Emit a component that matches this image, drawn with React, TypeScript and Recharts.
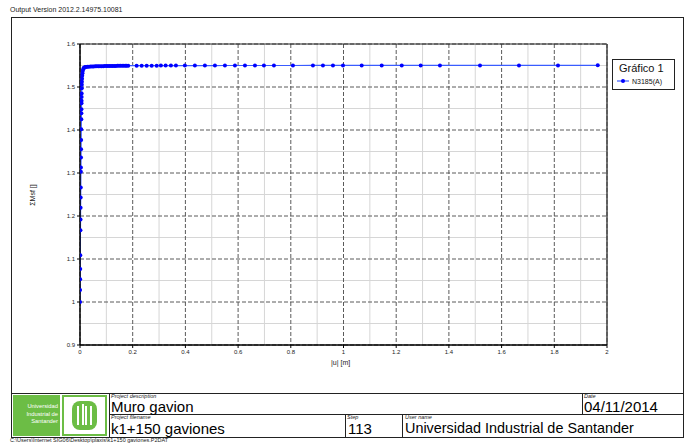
import React from 'react';
import { LineChart, Line, XAxis, YAxis, CartesianGrid, ReferenceLine } from 'recharts';

// |u| [m] of each calculation step
const uValues = [
  0, 0.0003, 0.0006, 0.0009, 0.0012, 0.0017, 0.002, 0.0023, 0.0026, 0.0029,
  0.0033, 0.0035, 0.0038, 0.0041, 0.0044, 0.0047, 0.0051, 0.0053, 0.0055, 0.0058,
  0.006, 0.0062, 0.0064, 0.0067, 0.007, 0.0073,
  0.0078, 0.0085, 0.0094, 0.0105, 0.012, 0.014, 0.0165, 0.0195, 0.023, 0.028,
  0.034, 0.04, 0.046, 0.052, 0.058, 0.064, 0.07, 0.076, 0.082, 0.088,
  0.094, 0.1, 0.106, 0.112, 0.118, 0.124, 0.13, 0.136, 0.142, 0.148,
  0.154, 0.16, 0.166, 0.172, 0.177,
  0.183, 0.215, 0.234, 0.253, 0.272, 0.291, 0.307, 0.325, 0.345, 0.364,
  0.398, 0.436, 0.474, 0.512, 0.55, 0.588, 0.626, 0.664, 0.698, 0.736,
  0.808, 0.884, 0.922, 0.96, 0.998, 1.069, 1.145, 1.221, 1.293, 1.366,
  1.518, 1.666, 1.814, 1.965,
];

// ΣMsf of each step
const msfValues = [
  1.0, 1.028, 1.053, 1.077, 1.109, 1.167, 1.192, 1.219, 1.243, 1.266,
  1.303, 1.313, 1.336, 1.355, 1.377, 1.402, 1.425, 1.439, 1.448, 1.462,
  1.468, 1.477, 1.485, 1.497, 1.505, 1.512,
  1.519, 1.526, 1.532, 1.537, 1.541, 1.544, 1.5455, 1.5463, 1.5468, 1.547,
  1.5472, 1.5474, 1.5476, 1.5478, 1.548, 1.5481, 1.5482, 1.5483, 1.5484, 1.5485,
  1.5486, 1.5487, 1.5488, 1.5489, 1.549, 1.549, 1.5491, 1.5491, 1.5492, 1.5492,
  1.5493, 1.5493, 1.5494, 1.5494, 1.5495,
  1.5495, 1.5496, 1.5496, 1.5497, 1.5497, 1.5497, 1.5498, 1.5498, 1.5498, 1.5498,
  1.5499, 1.5499, 1.5499, 1.5499, 1.55, 1.55, 1.55, 1.55, 1.55, 1.55,
  1.55, 1.5501, 1.5501, 1.5501, 1.5501, 1.5501, 1.5501, 1.5502, 1.5502, 1.5502,
  1.5502, 1.5502, 1.5502, 1.5503,
];

const xTicks = [0, 0.2, 0.4, 0.6, 0.8, 1, 1.2, 1.4, 1.6, 1.8, 2];
const xMinor = [0.1, 0.3, 0.5, 0.7, 0.9, 1.1, 1.3, 1.5, 1.7, 1.9];
const yTicks = [0.9, 1, 1.1, 1.2, 1.3, 1.4, 1.5, 1.6];
const yMinor = [0.95, 1.05, 1.15, 1.25, 1.35, 1.45, 1.55];

const data = uValues.map((u, i) => ({ u, msf: msfValues[i] }));

const FONT = '"Liberation Sans", Arial, sans-serif';
const GREEN = '#6cbd45';

const abs = (left: number, top: number, extra: React.CSSProperties = {}): React.CSSProperties => ({
  position: 'absolute',
  left,
  top,
  ...extra,
});

function Line_({ x1, y1, x2, y2, w = 1 }: { x1: number; y1: number; x2: number; y2: number; w?: number }) {
  return (
    <div
      style={abs(Math.min(x1, x2), Math.min(y1, y2), {
        width: Math.max(Math.abs(x2 - x1), w),
        height: Math.max(Math.abs(y2 - y1), w),
        background: '#222',
      })}
    />
  );
}

function Small({ x, y, children }: { x: number; y: number; children: React.ReactNode }) {
  return (
    <div style={abs(x, y, { fontSize: 5.5, fontStyle: 'italic', color: '#222', lineHeight: 1, whiteSpace: 'nowrap' })}>
      {children}
    </div>
  );
}

function Big({ x, y, size = 15, children }: { x: number; y: number; size?: number; children: React.ReactNode }) {
  return <div style={abs(x, y, { fontSize: size, color: '#000', lineHeight: 1, whiteSpace: 'nowrap' })}>{children}</div>;
}

export default function App() {
  return (
    <div
      style={{
        position: 'fixed',
        left: 0,
        top: 0,
        width: 689,
        height: 445,
        background: '#fff',
        fontFamily: FONT,
        overflow: 'hidden',
      }}
    >
      <div style={abs(10, 6, { fontSize: 7, color: '#222' })}>Output Version 2012.2.14975.10081</div>

      {/* outer frame */}
      <Line_ x1={11} y1={17} x2={683} y2={17} />
      <Line_ x1={11} y1={17} x2={11} y2={437} />
      <Line_ x1={683} y1={17} x2={683} y2={437} />
      <Line_ x1={11} y1={437} x2={684} y2={437} />

      <div style={abs(0, 0)}>
        <LineChart width={689} height={445} data={data} margin={{ top: 44, right: 82, bottom: 80, left: 50 }}>
          <CartesianGrid
            stroke="#d6d6d6"
            strokeWidth={1}
            verticalValues={xMinor}
            horizontalValues={yMinor}
          />
          <CartesianGrid
            stroke="#5a5a5a"
            strokeDasharray="4 2"
            strokeWidth={1}
            verticalValues={xTicks}
            horizontalValues={yTicks}
          />
          <XAxis
            dataKey="u"
            type="number"
            domain={[0, 2]}
            ticks={xTicks}
            height={20}
            tickSize={3}
            axisLine={{ stroke: '#000', strokeWidth: 1.5 }}
            tickLine={{ stroke: '#000' }}
            tick={{ fontSize: 6, fill: '#222', fontFamily: FONT }}
            allowDataOverflow
          />
          <YAxis
            dataKey="msf"
            type="number"
            domain={[0.9, 1.6]}
            ticks={yTicks}
            width={30}
            tickSize={3}
            axisLine={{ stroke: '#000', strokeWidth: 1.5 }}
            tickLine={{ stroke: '#000' }}
            tick={{ fontSize: 6, fill: '#222', fontFamily: FONT }}
            allowDataOverflow
          />
          <ReferenceLine y={1.6} stroke="#222" strokeWidth={1} />
          <ReferenceLine x={2} stroke="#444" strokeWidth={1.5} />
          <Line
            type="linear"
            dataKey="msf"
            stroke="#3a5cff"
            strokeWidth={1.2}
            dot={{ r: 2, fill: '#0000ff', stroke: 'none' }}
            isAnimationActive={false}
          />
        </LineChart>
      </div>

      {/* axis titles */}
      <div
        style={abs(32, 195, {
          fontSize: 7,
          color: '#222',
          transform: 'translate(-50%, -50%) rotate(-90deg)',
          whiteSpace: 'nowrap',
        })}
      >
        ΣMsf []
      </div>
      <div style={abs(331, 359, { fontSize: 7, color: '#222' })}>|u| [m]</div>

      {/* legend */}
      <div
        style={abs(612, 59, {
          width: 63,
          height: 31,
          border: '1px solid #222',
          boxSizing: 'border-box',
          background: '#fff',
        })}
      >
        <div style={abs(6, 3, { fontSize: 11, color: '#111', lineHeight: 1 })}>Gráfico 1</div>
        <svg style={abs(3, 17)} width={14} height={8}>
          <line x1={1} y1={4} x2={13} y2={4} stroke="#3a5cff" strokeWidth={1.2} />
          <circle cx={7} cy={4} r={2} fill="#0000ff" />
        </svg>
        <div style={abs(19, 18, { fontSize: 7, color: '#111', lineHeight: 1 })}>N3185(A)</div>
      </div>

      {/* title block */}
      <Line_ x1={11} y1={393} x2={683} y2={393} />
      <Line_ x1={109} y1={414} x2={683} y2={414} />
      <Line_ x1={109} y1={393} x2={109} y2={437} />
      <Line_ x1={582} y1={393} x2={582} y2={414} />
      <Line_ x1={345} y1={414} x2={345} y2={437} />
      <Line_ x1={402} y1={414} x2={402} y2={437} />

      {/* logo */}
      <div style={abs(13, 395, { width: 47, height: 41, background: GREEN })}>
        <div
          style={abs(2, 8, {
            width: 43,
            fontSize: 5.8,
            color: '#fff',
            lineHeight: 1.3,
            textAlign: 'right',
          })}
        >
          Universidad
          <br />
          Industrial de
          <br />
          Santander
        </div>
      </div>
      <div
        style={abs(62, 395, {
          width: 45,
          height: 41,
          border: `2px solid ${GREEN}`,
          boxSizing: 'border-box',
          background: '#fff',
        })}
      >
        <svg style={abs(0, 0)} width={41} height={37}>
          <rect x={8} y={4} width={25} height={29} rx={8} fill={GREEN} />
          <rect x={13} y={9} width={2} height={19} fill="#fff" />
          <rect x={18} y={7} width={2} height={21} fill="#fff" />
          <rect x={21} y={9} width={2} height={19} fill="#fff" />
          <rect x={26} y={9} width={2} height={19} fill="#fff" />
        </svg>
      </div>

      <Small x={111} y={393.5}>Project description</Small>
      <Big x={111} y={399} size={15}>Muro gavion</Big>
      <Small x={584} y={393.5}>Date</Small>
      <Big x={584} y={399} size={15}>04/11/2014</Big>
      <Small x={111} y={415}>Project filename</Small>
      <Big x={111} y={421}>k1+150 gaviones</Big>
      <Small x={347} y={415}>Step</Small>
      <Big x={348} y={421}>113</Big>
      <Small x={405} y={415}>User name</Small>
      <Big x={405} y={421} size={14.4}>Universidad Industrial de Santander</Big>

      <div style={abs(10, 438, { fontSize: 5.5, color: '#222', lineHeight: 1 })}>
        C:\Users\Internet SIG06\Desktop\plaxis\k1+150 gaviones.P2DAT
      </div>
    </div>
  );
}
